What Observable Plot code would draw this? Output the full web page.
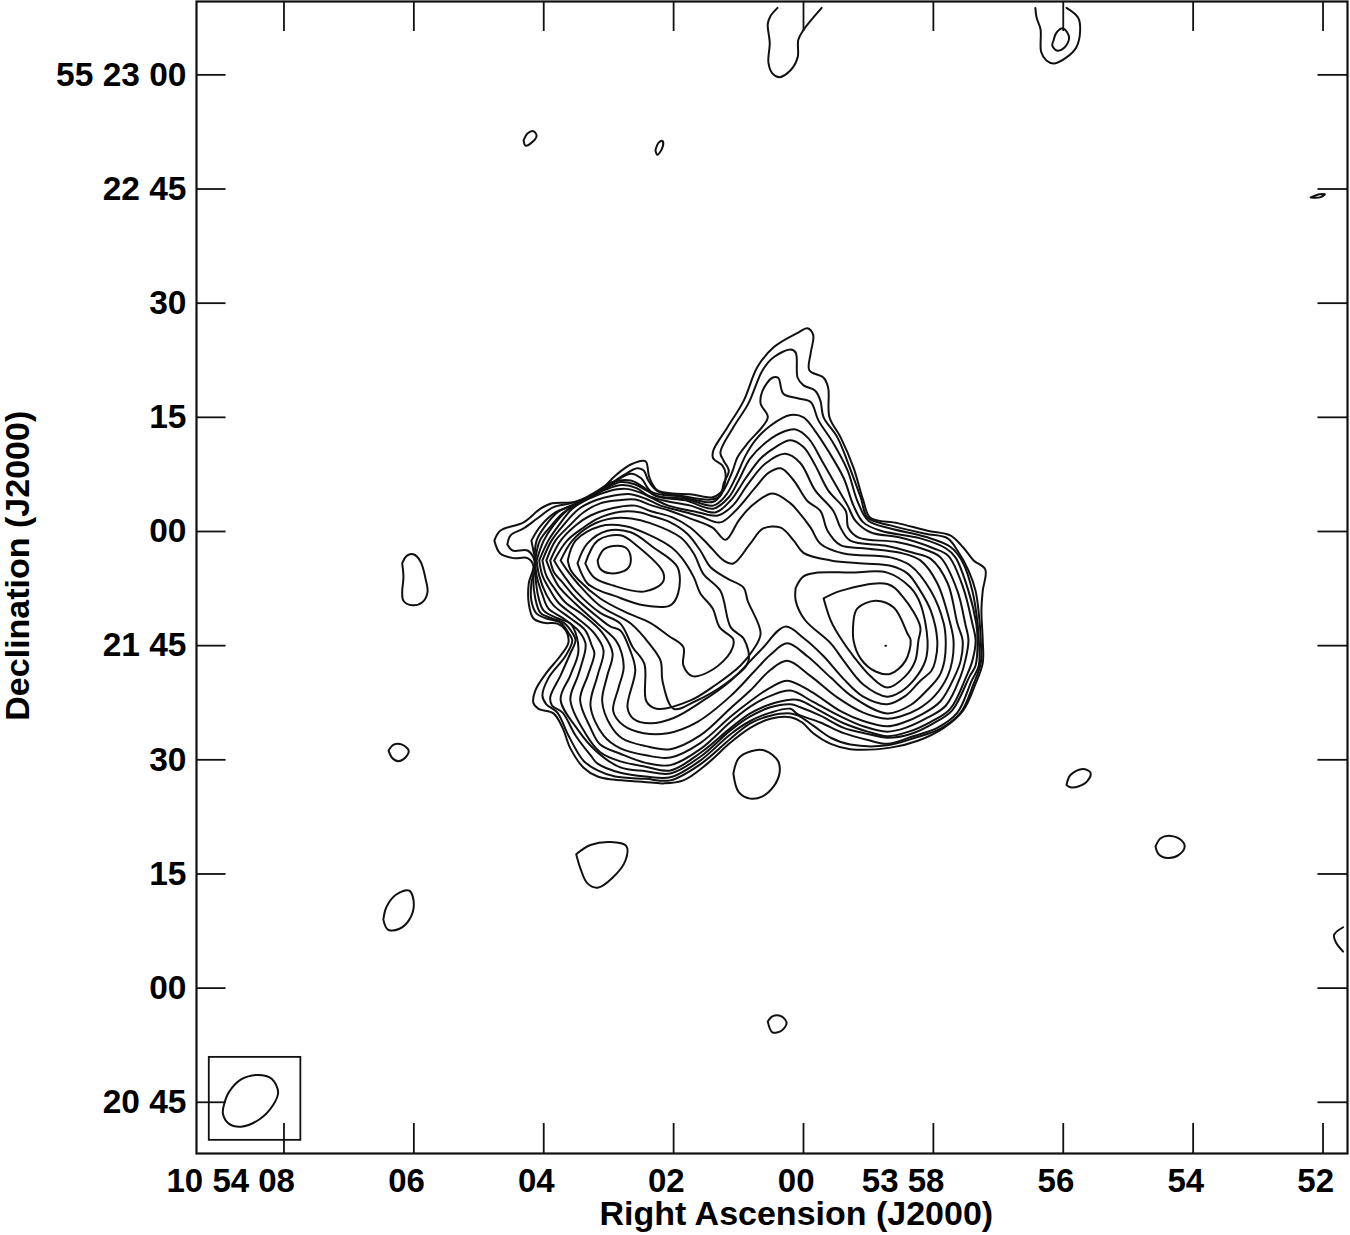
<!DOCTYPE html>
<html><head><meta charset="utf-8">
<script src="https://cdn.jsdelivr.net/npm/d3@7"></script>
<script src="https://cdn.jsdelivr.net/npm/@observablehq/plot@0.6"></script>
<style>html,body{margin:0;background:#fff}svg{display:block}</style>
</head><body>
<script>
// x: RA offset from 10 54 00 in seconds of time; y: Dec offset from 55 22 00 in arcsec
const raTicks=[8,6,4,2,0,-2,-4,-6,-8];
const raLabels=["10 54 08","06","04","02","00","53 58","56","54","52"];
const decTicks=[60,45,30,15,0,-15,-30,-45,-60,-75];
const decLabels=["55 23 00","22 45","30","15","00","21 45","30","15","00","20 45"];
const C1=[[4.76,-1.2],[4.67,.1],[4.31,1.2],[4.05,3],[3.87,3.7],[3.59,3.8],[3.39,4.1],[3.13,5.4],[2.89,7.4],[2.66,8.8],[2.46,9.3],[2.42,9.1],[2.37,7],[2.25,5.4],[2.02,5],[1.74,4.9],[1.4,4.5],[1.25,5.4],[1.2,7.6],[1.25,8.7],[1.39,9.6],[1.39,10.6],[1.17,13.7],[.92,17.2],[.71,21.6],[.46,24.2],[.09,26.1],[-.06,26.7],[-.15,25.8],[-.11,23.4],[-.09,21.2],[-.31,20.2],[-.38,18.9],[-.4,15],[-.57,12.4],[-.77,8.4],[-.92,4.1],[-1.03,1.8],[-1.45,1.1],[-1.91,.1],[-2.26,-.5],[-2.46,-2.1],[-2.62,-3.8],[-2.8,-5],[-2.76,-7.8],[-2.74,-10.4],[-2.76,-14.3],[-2.76,-17.3],[-2.65,-20],[-2.46,-23.5],[-2.16,-25.8],[-1.76,-27.5],[-1.34,-28.4],[-.72,-28.6],[-.42,-27.9],[-.15,-26.5],[.02,-25.1],[.2,-24.4],[.51,-24.6],[.82,-25.8],[1.12,-27.7],[1.48,-30.5],[1.85,-32.7],[2.16,-33.1],[2.46,-32.9],[2.93,-32.6],[3.17,-32.2],[3.39,-31],[3.59,-28.5],[3.71,-25.8],[3.85,-23.9],[4.08,-23.3],[4.16,-22.5],[4.13,-20.9],[3.97,-18.7],[3.74,-16.3],[3.62,-14.6],[3.66,-13],[3.79,-12.1],[4,-12],[4.16,-11.4],[4.23,-9.5],[4.23,-6.8],[4.16,-4.5],[4.25,-3.5],[4.47,-3.5],[4.67,-2.9],[4.76,-1.2]];
const C2=[[4.56,-1.7],[4.51,-.5],[4.31,.4],[4.1,1.7],[3.85,3.2],[3.59,3.7],[3.33,4.5],[3.02,6],[2.77,7.4],[2.56,8.3],[2.46,8],[2.39,6.7],[2.25,5.3],[1.89,4.7],[1.43,4.2],[1.28,4.7],[1.23,6.3],[1.15,8],[1.23,9.3],[1.28,10.4],[1.08,13.7],[.85,16.8],[.63,21.2],[.46,22.9],[.2,23.9],[.12,23.5],[.09,20.2],[0,19.2],[-.18,18.5],[-.26,17.2],[-.31,15],[-.52,12.4],[-.69,8.9],[-.88,4.5],[-.99,1.8],[-1.34,.8],[-1.88,-.3],[-2.22,-.9],[-2.37,-2.5],[-2.54,-5.1],[-2.65,-7.8],[-2.71,-11.7],[-2.73,-14.3],[-2.73,-17.3],[-2.62,-20],[-2.42,-23.8],[-2.11,-25.9],[-1.72,-27.1],[-1.29,-28.1],[-.72,-28],[-.42,-27.1],[-.15,-25.5],[.08,-24.2],[.2,-23.9],[.51,-24.2],[.82,-25.2],[1.12,-27.2],[1.59,-30.6],[2.05,-32.7],[2.43,-32.5],[2.9,-32.2],[3.17,-31.4],[3.39,-30.1],[3.62,-26.8],[3.79,-23.8],[3.96,-22.7],[4.02,-21.6],[3.93,-19.3],[3.66,-16.3],[3.56,-14.3],[3.62,-13.3],[3.74,-12],[3.97,-11.4],[4.11,-10.8],[4.19,-9.1],[4.19,-6.8],[4.13,-4.5],[4.16,-3.4],[4.25,-2.5],[4.48,-2.5],[4.56,-1.7]];
const C3=[[4.19,-1.2],[4.05,.7],[3.82,2.5],[3.56,3.4],[3.28,4.5],[2.97,6.2],[2.66,7.6],[2.5,7],[2.34,5.2],[1.89,4.6],[1.39,3.9],[1.23,5.4],[1.09,8],[1.02,9.7],[.86,11.6],[.55,15],[.66,16.8],[.63,18.5],[.48,20.2],[.39,20.2],[.31,18.1],[.09,17.5],[-.11,17],[-.23,14.6],[-.46,11.6],[-.68,8],[-.83,4],[-1,1.4],[-1.34,.4],[-1.88,-.7],[-2.26,-2],[-2.45,-4],[-2.6,-7.8],[-2.68,-12],[-2.7,-14.3],[-2.7,-17.6],[-2.59,-19.6],[-2.37,-23.8],[-2.06,-25.8],[-1.69,-26.9],[-1.29,-27.9],[-.99,-27.4],[-.62,-26.5],[-.26,-25.1],[.09,-24],[.2,-23.3],[.51,-23.8],[.82,-24.9],[1.12,-26.6],[1.59,-30.1],[2.05,-32.3],[2.43,-32.2],[2.82,-31.7],[3.17,-30.5],[3.28,-29.4],[3.51,-26.8],[3.71,-23.8],[3.87,-22.9],[3.9,-21.8],[3.74,-18.9],[3.59,-16],[3.51,-14.3],[3.56,-13.3],[3.69,-12],[3.88,-11.4],[4.05,-10.7],[4.13,-8.8],[4.16,-5.7],[4.13,-4],[4.16,-2.5],[4.19,-1.2]];
const C4=[[4.14,-3.8],[4.11,-1.2],[3.97,.8],[3.79,2.5],[3.51,3.7],[3.2,5.2],[2.94,6.5],[2.66,6.7],[2.46,5.8],[2.28,4.7],[1.82,4.3],[1.39,3.4],[1.2,4.7],[1.05,7],[.89,10],[.74,12],[.51,13.9],[.2,15.3],[0,15],[-.18,13.2],[-.38,10.6],[-.62,7],[-.77,3.4],[-.92,1.2],[-1.19,.1],[-1.8,-.9],[-2.19,-2.2],[-2.34,-3.4],[-2.54,-7.8],[-2.66,-12.1],[-2.68,-14.3],[-2.65,-17.6],[-2.56,-19],[-2.29,-23.5],[-2,-25.2],[-1.65,-26.6],[-1.29,-27.1],[-.99,-26.6],[-.62,-25.8],[-.26,-24.2],[.05,-23.1],[.2,-22.7],[.51,-23.1],[.82,-24.3],[1.12,-26.1],[1.59,-29.6],[2.05,-31.8],[2.43,-31.5],[2.82,-31],[3.2,-28.8],[3.47,-26.1],[3.74,-22.1],[3.59,-18.9],[3.47,-16],[3.49,-13.9],[3.59,-12.1],[3.79,-11.4],[4,-10.4],[4.08,-8.7],[4.13,-5.8],[4.14,-3.8]];
const C5=[[4.13,-3.8],[4.06,-1.2],[3.88,.8],[3.71,2.4],[3.44,3.8],[3.1,5.4],[2.82,6.5],[2.6,6.2],[2.4,5.3],[2.2,4.5],[1.82,4.1],[1.39,3],[1.15,4.5],[1,6.7],[.82,9.6],[.55,11.9],[.28,13.2],[.12,13.4],[-.08,12.2],[-.29,9.2],[-.49,6.2],[-.68,3.4],[-.8,1.4],[-1.03,-.1],[-1.49,-.8],[-2,-2.2],[-2.23,-3.2],[-2.46,-7.4],[-2.6,-12.1],[-2.65,-14.3],[-2.6,-17],[-2.51,-19],[-2.26,-23.3],[-1.96,-25],[-1.62,-26.3],[-1.29,-26.9],[-.99,-26.3],[-.62,-25.2],[-.22,-23.4],[.05,-22.2],[.2,-22.1],[.51,-22.7],[.82,-23.9],[1.12,-25.8],[1.59,-29.1],[2.05,-31.4],[2.43,-30.9],[2.82,-30.2],[3.13,-29],[3.36,-26.5],[3.59,-22.1],[3.47,-18.9],[3.36,-15.6],[3.36,-14.6],[3.47,-13],[3.7,-11.4],[3.93,-10.1],[4.02,-8.3],[4.11,-5.8],[4.13,-3.8]];
const C6=[[4.11,-3.8],[4,-1.2],[3.85,.8],[3.65,2.7],[3.39,4.1],[3.05,5.5],[2.79,6.1],[2.57,5.7],[2.39,4.7],[2.17,4.1],[1.74,3.4],[1.36,2.5],[1.12,4.1],[.89,7],[.66,9.6],[.43,11.1],[.2,12],[0,11.1],[-.18,8.7],[-.38,5.4],[-.65,2.7],[-.69,.5],[-.85,-.8],[-1.45,-1.4],[-1.91,-2.5],[-2.11,-3.4],[-2.37,-7.8],[-2.49,-12.1],[-2.54,-14.3],[-2.49,-17],[-2.42,-19],[-2.19,-22.9],[-1.88,-24.6],[-1.57,-25.8],[-1.29,-26.3],[-.92,-25.6],[-.57,-24.3],[-.15,-22.4],[.2,-20.9],[.51,-21.6],[.82,-23],[1.12,-25],[1.59,-28.6],[2.05,-30.7],[2.43,-30.4],[2.82,-29.2],[3.13,-28],[3.28,-25.8],[3.44,-22.1],[3.32,-18.9],[3.22,-16],[3.26,-15],[3.36,-13],[3.59,-11.4],[3.85,-9.7],[3.96,-8.3],[4.07,-5.8],[4.11,-3.8]];
const C7=[[4.07,-3.8],[3.93,-1.2],[3.77,.8],[3.56,3],[3.31,4.3],[3,5.3],[2.74,5.6],[2.51,5.1],[2.31,4.3],[2.08,3.4],[1.66,2.6],[1.32,2.1],[1.09,3.4],[.85,6.3],[.59,8.9],[.28,10.2],[.05,9],[-.18,5.4],[-.46,2.7],[-.57,.5],[-.72,-1.2],[-1.29,-1.9],[-1.69,-2.8],[-1.96,-3.6],[-2.22,-6.8],[-2.37,-12.1],[-2.45,-14.3],[-2.42,-17],[-2.33,-19],[-2.11,-22.3],[-1.83,-24],[-1.54,-25.1],[-1.29,-25.6],[-.92,-24.9],[-.57,-23.6],[-.11,-21],[.25,-19.6],[.51,-20.5],[.82,-22.3],[1.12,-24.3],[1.59,-27.8],[2.05,-29.7],[2.43,-29.4],[2.82,-28.5],[3.08,-26.8],[3.28,-22.9],[3.17,-18.9],[3.08,-15.6],[3.23,-13.3],[3.51,-11.2],[3.77,-9.4],[3.91,-7.6],[4.02,-5.8],[4.07,-3.8]];
const C8=[[4.02,-3.8],[3.88,-1.2],[3.7,.8],[3.47,2.9],[3.2,4.1],[2.94,4.7],[2.66,4.9],[2.43,4.3],[2.2,3.4],[1.89,2.7],[1.59,2],[1.28,1.2],[1.05,2.7],[.74,5.8],[.54,7.7],[.35,8.3],[.15,6.7],[-.06,4],[-.26,2.7],[-.37,.1],[-.57,-1.8],[-.92,-2.2],[-1.49,-2.8],[-1.8,-3.8],[-2.06,-6.8],[-2.26,-12.1],[-2.31,-14.3],[-2.29,-17],[-2.22,-19],[-2.02,-21.6],[-1.77,-23.3],[-1.49,-24.3],[-1.29,-24.6],[-.92,-23.8],[-.52,-21.8],[-.11,-19],[.25,-17],[.51,-18.2],[.82,-20.9],[1.12,-23.2],[1.59,-26.8],[2.05,-28.6],[2.43,-28.2],[2.79,-27.2],[2.97,-25.5],[3.1,-22.3],[3.02,-18.9],[2.94,-16],[3.1,-13.3],[3.39,-11],[3.67,-9.3],[3.85,-7.3],[3.96,-5.8],[4.02,-3.8]];
const C9=[[3.96,-3.8],[3.82,-1.2],[3.6,.8],[3.39,2.5],[3.13,3.7],[2.85,4.1],[2.59,4.2],[2.33,3.4],[2.05,2.7],[1.74,1.7],[1.4,.5],[1.2,-1.1],[1,1.4],[.82,3.2],[.48,5],[.2,3.7],[.09,2.7],[-.11,.5],[-.26,-1.6],[-.62,-2.9],[-1.34,-3.4],[-1.65,-4.5],[-1.96,-7.8],[-2.16,-12.1],[-2.19,-14.3],[-2.17,-17],[-2.09,-19],[-1.91,-20.8],[-1.65,-22.8],[-1.29,-23.9],[-.77,-21.8],[-.42,-19.2],[-.06,-16.4],[.25,-14.7],[.51,-16.2],[.77,-18.5],[1.12,-21.6],[1.63,-25],[2.09,-26.5],[2.46,-26.5],[2.77,-25.5],[2.93,-23.6],[2.85,-20.6],[2.77,-18],[2.8,-16],[2.89,-14.3],[3.13,-12.4],[3.51,-9.5],[3.77,-7.2],[3.88,-5.5],[3.96,-3.8]];
const C10=[[3.9,-3.8],[3.74,-1.2],[3.51,.8],[3.28,2.1],[2.93,3.1],[2.59,3.4],[2.36,2.7],[2.00,1.8],[1.74,.5],[1.48,-1.6],[1.23,-3.8],[1.08,-4.2],[.82,-1.6],[.62,.4],[.35,.5],[.15,-1.2],[0,-2.8],[-.42,-3.8],[-.92,-4.2],[-1.34,-4.5],[-1.6,-5.5],[-1.8,-7.8],[-1.96,-10.4],[-2.06,-14.3],[-2.03,-17],[-1.97,-18.3],[-1.8,-19.6],[-1.57,-21.6],[-1.29,-22.7],[-.92,-21.7],[-.62,-19.4],[-.31,-16.4],[0,-14],[.28,-12.5],[.66,-15.6],[1.12,-19.6],[1.56,-22.3],[2,-24.5],[2.36,-25.2],[2.62,-24.6],[2.71,-23.1],[2.59,-18.2],[2.67,-15.6],[2.82,-13],[2.97,-12.5],[3.13,-11.5],[3.51,-8.7],[3.72,-6.6],[3.84,-5.4],[3.9,-3.8]];
const C11=[[3.84,-3.8],[3.64,-1.2],[3.39,.5],[3.17,1.7],[2.82,2.6],[2.51,2.5],[2.36,2.1],[2.05,1.2],[1.79,-.3],[1.59,-2.5],[1.43,-4.7],[1.17,-6.2],[.92,-7.4],[.86,-9.1],[.66,-13.4],[.78,-15.6],[.97,-17.6],[1.36,-20.2],[1.74,-22.2],[2.26,-23.3],[2.42,-22.3],[2.45,-17.4],[2.63,-15.2],[2.82,-12.1],[3.13,-10.7],[3.51,-7.8],[3.69,-5.8],[3.77,-4.8],[3.84,-3.8]];
const C12=[[3.74,-3.8],[3.56,-1.2],[3.27,.8],[2.96,1.7],[2.65,1.7],[2.36,1.1],[1.89,-.8],[1.69,-2.9],[1.54,-5.6],[1.28,-7.8],[1.12,-12.6],[.92,-14.1],[.85,-17.1],[1.17,-19.8],[1.69,-22.4],[2,-23.3],[2.17,-19.7],[2.2,-17],[2.36,-14.9],[2.66,-12.1],[3.13,-9.8],[3.48,-6.8],[3.63,-5.2],[3.74,-3.8]];
const C13=[[3.63,-3.8],[3.51,-1.2],[3.13,.7],[2.74,.7],[2.36,-.5],[2.03,-2.1],[1.88,-3.4],[1.69,-6],[1.59,-8.1],[1.4,-10.1],[1.29,-12.6],[1.08,-14.2],[1.12,-15.8],[1.39,-18.1],[1.71,-19],[1.85,-17.6],[1.85,-15.2],[2.08,-13.7],[2.36,-12],[2.74,-10.6],[3.13,-8.8],[3.47,-6.3],[3.59,-5],[3.63,-3.8]];
const W3=[[3.48,-4.2],[3.33,-1.6],[3.02,.1],[2.66,-.1],[2.31,-2.1],[1.94,-4.7],[1.93,-8.1],[2.05,-9.7],[2.46,-9.7],[2.93,-8.4],[3.13,-7.8],[3.33,-6.8],[3.48,-4.2]];
const W2=[[3.36,-4.2],[3.17,-1.2],[2.82,-.5],[2.56,-1.9],[2.16,-5.4],[2.17,-6.7],[2.46,-7.9],[2.93,-7.1],[3.23,-6],[3.36,-4.2]];
const W1=[[3.17,-3.8],[3.08,-2.4],[2.93,-1.9],[2.74,-2.1],[2.66,-3.4],[2.71,-4.9],[2.97,-5.5],[3.13,-4.9],[3.17,-3.8]];
const E3=[[.12,-7.4],[0,-5.9],[-.22,-5.4],[-.72,-5.4],[-1.29,-5.4],[-1.65,-7.4],[-1.8,-9.5],[-1.91,-14.3],[-1.88,-16.9],[-1.72,-19.3],[-1.49,-21.1],[-1.29,-21.7],[-.92,-20.1],[-.62,-17],[-.42,-14.7],[-.02,-11.6],[.12,-9.1],[.12,-7.4]];
const E2=[[-.31,-8.8],[-.57,-7.8],[-1.29,-6.9],[-1.54,-8.7],[-1.8,-12.6],[-1.77,-14.3],[-1.72,-17],[-1.57,-19],[-1.29,-20.5],[-1.03,-19],[-.77,-16.4],[-.57,-14],[-.42,-11.7],[-.31,-8.8]];
const E1=[[-.77,-11.7],[-.83,-10.1],[-1.11,-9.1],[-1.39,-10],[-1.6,-13.4],[-1.65,-14.3],[-1.57,-17],[-1.34,-18.7],[-1.11,-18.4],[-.88,-16.7],[-.77,-14.3],[-.77,-11.7]];
const peakDot=[[-1.26,-15],[-1.27,-15]];
const spotA=[[6.18,-4.2],[6.11,-3.2],[6.01,-3],[5.9,-3.9],[5.82,-6.2],[5.79,-8],[5.87,-9.3],[6.02,-9.7],[6.16,-9.1],[6.18,-8],[6.16,-6],[6.18,-4.2]];
const spotB=[[6.39,-28.8],[6.31,-28],[6.18,-28],[6.08,-28.8],[6.13,-29.7],[6.24,-30.2],[6.34,-29.7],[6.39,-28.8]];
const spotC=[[1.08,-31.8],[1,-29.8],[.82,-28.9],[.59,-28.8],[.39,-30.2],[.37,-31.8],[.46,-33.5],[.63,-34.8],[.82,-35.1],[1,-34.2],[1.08,-31.8]];
const spotD=[[3.5,-42.4],[3.28,-41.2],[2.97,-40.8],[2.73,-41.3],[2.74,-43.2],[2.94,-45.5],[3.17,-46.8],[3.33,-46.2],[3.43,-44.4],[3.5,-42.4]];
const spotE=[[6.47,-51],[6.42,-49.3],[6.27,-47.7],[6.07,-47.2],[6,-49],[6.07,-51],[6.22,-52.2],[6.4,-52.3],[6.47,-51]];
const spotF=[[.55,-64.4],[.48,-63.7],[.34,-63.7],[.26,-64.6],[.34,-65.6],[.48,-65.8],[.55,-64.4]];
const spotG=[[-4.05,-33.3],[-4.11,-32],[-4.3,-31.2],[-4.42,-31.7],[-4.37,-32.8],[-4.23,-33.5],[-4.11,-33.6],[-4.05,-33.3]];
const spotH=[[-5.42,-41.4],[-5.5,-40.3],[-5.65,-40],[-5.81,-40.5],[-5.87,-41.4],[-5.78,-42.5],[-5.61,-42.9],[-5.47,-42.4],[-5.42,-41.4]];
const spotI=[[4.31,51.4],[4.25,52.3],[4.16,52.6],[4.11,52],[4.2,51],[4.28,50.7],[4.31,51.4]];
const spotJ=[[2.28,50.1],[2.23,51.1],[2.17,51.3],[2.17,50.5],[2.25,49.5],[2.28,50.1]];
const spotK=[[.4,68.8],[.51,67.7],[.55,66.7],[.52,64.2],[.54,61.6],[.48,60.2],[.37,59.7],[.2,60.6],[.09,62.3],[.08,64.6],[0,65.9],[-.28,68.8]];
const spotL=[[-3.57,68.8],[-3.59,67.5],[-3.65,66],[-3.66,63],[-3.74,61.9],[-3.86,61.5],[-4.05,62.3],[-4.2,63.6],[-4.26,65.8],[-4.23,67.5],[-4.05,68.8]];
const spotM=[[-3.85,64.5],[-3.9,65.6],[-4,66.1],[-4.09,64.9],[-4.02,63.6],[-3.9,63.2],[-3.83,63.9],[-3.85,64.5]];
const spotN=[[-7.81,43.9],[-7.95,44.3],[-8.03,44.3],[-7.95,43.9],[-7.81,43.9]];
const spotO=[[-8.31,-52],[-8.17,-53],[-8.2,-54],[-8.31,-55.2]];
const beam=[[8.92,-75.2],[8.85,-73.7],[8.66,-72],[8.4,-71.4],[8.19,-71.9],[8.09,-73.7],[8.17,-75.4],[8.37,-77.2],[8.66,-78.2],[8.85,-77.8],[8.94,-76.5],[8.92,-75.2]];
const beamBox=[{ra1:9.15,ra2:7.74,dec1:-69.1,dec2:-80}];
const contours=[C1,C2,C3,C4,C5,C6,C7,C8,C9,C10,C11,C12,C13,W3,W2,W1,E3,E2,E1,peakDot,spotA,spotB,spotC,spotD,spotE,spotF,spotG,spotH,spotI,spotJ,spotK,spotL,spotM,spotN,spotO,beam];
const rows=contours.flatMap((c,i)=>c.map(([ra,dec])=>({ra,dec,i})));
const raMax=9.347, raMin=-8.377, decMax=69.64, decMin=-81.73;
const tickDec=3.94, tickRa=.455;
const font="'Liberation Sans',Arial,sans-serif";
const ink="#111";
const tw=1.8;
const chart=Plot.plot({
  width:1350,height:1235,marginLeft:196,marginRight:3,marginTop:1,marginBottom:82,
  style:{fontFamily:font,color:"#000",background:"#fff",overflow:"visible"},
  x:{domain:[raMax,raMin],axis:null},y:{domain:[decMin,decMax],axis:null},
  marks:[
    Plot.line(rows,{x:"ra",y:"dec",z:"i",curve:"catmull-rom",stroke:ink,strokeWidth:2}),
    Plot.rect(beamBox,{x1:"ra1",x2:"ra2",y1:"dec1",y2:"dec2",fill:"none",stroke:ink,strokeWidth:tw}),
    Plot.ruleX(raTicks,{y1:()=>decMin,y2:()=>decMin+tickDec,stroke:ink,strokeWidth:tw}),
    Plot.ruleX(raTicks,{y1:()=>decMax,y2:()=>decMax-tickDec,stroke:ink,strokeWidth:tw}),
    Plot.ruleY(decTicks,{x1:()=>raMax,x2:()=>raMax-tickRa,stroke:ink,strokeWidth:tw}),
    Plot.ruleY(decTicks,{x1:()=>raMin,x2:()=>raMin+tickRa,stroke:ink,strokeWidth:tw}),
    Plot.axisX(raTicks,{anchor:"bottom",tickSize:0,tickPadding:15,textAnchor:"end",dx:11,tickFormat:d=>raLabels[raTicks.indexOf(d)],fontSize:33,fontWeight:"bold",label:null}),
    Plot.axisY(decTicks,{anchor:"left",tickSize:0,tickPadding:10,tickFormat:d=>decLabels[decTicks.indexOf(d)],fontSize:33.5,fontWeight:"bold",label:null}),
    Plot.frame({stroke:ink,strokeWidth:2.2}),
    Plot.text(["Right Ascension (J2000)"],{x:()=>.11,text:d=>d,frameAnchor:"bottom",dy:71,fontSize:34,fontWeight:"bold"}),
    Plot.text(["Declination (J2000)"],{y:()=>-4.5,text:d=>d,frameAnchor:"left",textAnchor:"middle",dx:-178,rotate:-90,fontSize:34,fontWeight:"bold"})
  ]
});
document.body.appendChild(chart);
</script>
</body></html>
